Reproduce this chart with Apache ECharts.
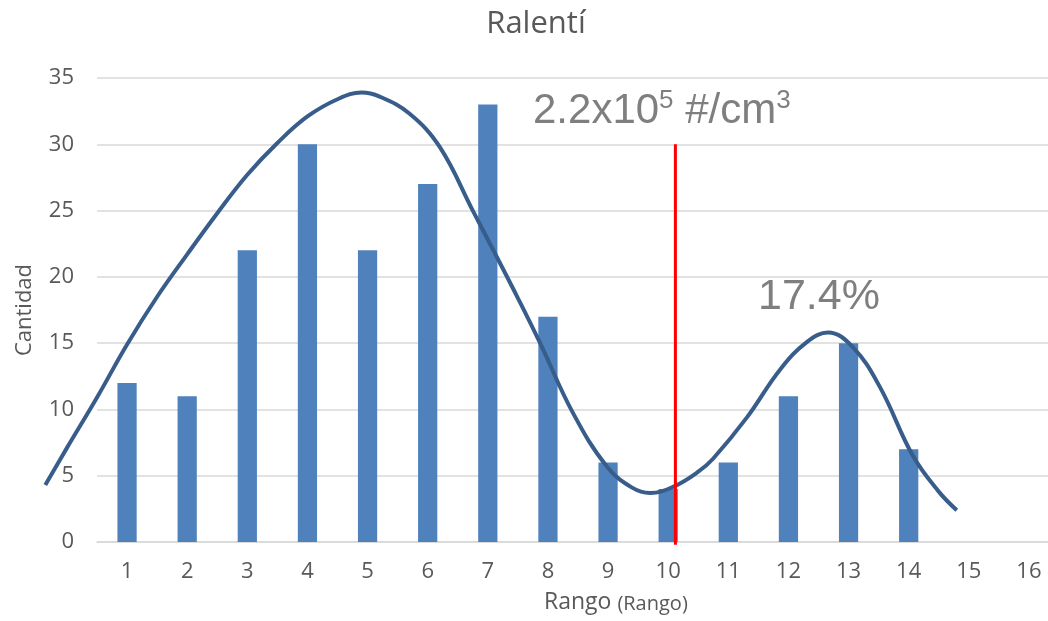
<!DOCTYPE html>
<html>
<head>
<meta charset="utf-8">
<script src="https://cdn.jsdelivr.net/npm/echarts@6/dist/echarts.min.js"></script>
<style>
  html, body { margin: 0; padding: 0; background: #fff; }
  #chart { width: 1048px; height: 621px; }
</style>
</head>
<body>
<div id="chart"></div>
<script>
const categories = ["1", "2", "3", "4", "5", "6", "7", "8", "9", "10", "11", "12", "13", "14", "15", "16"];
const counts = [12, 11, 22, 30, 22, 27, 33, 17, 6, 4, 6, 11, 15, 7, 0, 0];

// trend curve: [rango, cantidad]
const trendPoints = [
  [-0.36, 4.3], [0, 7.1], [0.5, 10.9], [1, 14.9], [1.5, 18.5], [2, 21.7],
  [2.5, 24.8], [3, 27.7], [3.5, 30.1], [4, 32.1], [4.5, 33.4], [4.9, 33.9],
  [5.2, 33.6], [5.7, 32.3], [6.2, 29.8], [6.75, 25.0], [7.15, 21.5],
  [7.5, 18.4], [7.87, 15.0], [8.42, 9.7], [8.98, 5.7], [9.4, 4.1],
  [9.7, 3.7], [10.1, 4.2], [10.5, 5.3], [10.75, 6.3], [11.31, 9.4],
  [11.86, 13.0], [12.31, 15.1], [12.66, 15.8], [13.07, 14.7], [13.52, 11.7],
  [14.07, 6.5], [14.5, 3.8], [14.8, 2.4]
];

const markerX = 10.12;
const markerTop = 30;

const chart = echarts.init(document.getElementById("chart"));
const font = "'Open Sans', 'Noto Sans', sans-serif";
const arial = "'Liberation Sans', Arial, sans-serif";

// one category is 962 / 16 px wide; the curve grid starts one category further left
const bandPx = 962 / 16;

chart.setOption({
  animation: false,
  backgroundColor: "#fff",
  title: {
    text: "Ralentí",
    left: 531,
    top: 4,
    textAlign: "center",
    textStyle: { color: "#595959", fontSize: 31, fontWeight: "normal", fontFamily: font }
  },
  grid: [
    { left: 97, top: 78, width: 962, height: 464, outerBoundsMode: "none" },
    { left: 97 - bandPx, top: 78, width: 962 + bandPx, height: 464, outerBoundsMode: "none" }
  ],
  xAxis: [
    {
      type: "category",
      data: categories,
      gridIndex: 0,
      axisTick: { show: false },
      axisLine: { lineStyle: { color: "#d9d9d9", width: 1.5 } },
      axisLabel: { color: "#595959", fontSize: 22, margin: 19, fontFamily: font }
    },
    {
      type: "value",
      gridIndex: 1,
      min: -0.5,
      max: 16.5,
      show: false
    }
  ],
  yAxis: [
    {
      type: "value",
      gridIndex: 0,
      min: 0,
      max: 35,
      interval: 5,
      name: "Cantidad",
      nameLocation: "middle",
      nameGap: 61,
      nameTextStyle: { color: "#595959", fontSize: 22, fontFamily: font },
      axisLine: { show: false },
      axisTick: { show: false },
      axisLabel: { color: "#595959", fontSize: 22, margin: 23, fontFamily: font },
      splitLine: { lineStyle: { color: "#d9d9d9", width: 1.5 } }
    },
    {
      type: "value",
      gridIndex: 1,
      min: 0,
      max: 35,
      show: false
    }
  ],
  series: [
    {
      type: "bar",
      data: counts,
      barWidth: "32%",
      itemStyle: { color: "#4f81bd" }
    },
    {
      type: "line",
      xAxisIndex: 1,
      yAxisIndex: 1,
      data: trendPoints,
      smooth: 0.4,
      symbol: "none",
      clip: false,
      lineStyle: { color: "#385d8a", width: 4 }
    },
    {
      type: "line",
      xAxisIndex: 1,
      yAxisIndex: 1,
      data: [[markerX, -0.2], [markerX, markerTop]],
      symbol: "none",
      clip: false,
      lineStyle: { color: "#ff0000", width: 3 }
    }
  ],
  graphic: [
    {
      type: "text",
      left: 533,
      top: 88,
      style: {
        text: "{b|2.2x10}{s|5}{b| #/cm}{s|3}",
        rich: {
          b: { fontSize: 42, fill: "#7f7f7f", fontFamily: arial, verticalAlign: "bottom" },
          s: { fontSize: 26, fill: "#7f7f7f", fontFamily: arial, padding: [0, 0, 18, 0], verticalAlign: "bottom" }
        }
      }
    },
    {
      type: "text",
      left: 758,
      top: 276,
      style: {
        text: "17.4%",
        fontSize: 43,
        fill: "#7f7f7f",
        fontFamily: arial
      }
    },
    {
      type: "text",
      left: 544,
      top: 591,
      style: {
        text: "{a|Rango }{b|(Rango)}",
        rich: {
          a: { fontSize: 23, fill: "#595959", fontFamily: font, verticalAlign: "bottom" },
          b: { fontSize: 20, fill: "#595959", fontFamily: font, verticalAlign: "bottom" }
        }
      }
    }
  ]
});
</script>
</body>
</html>
